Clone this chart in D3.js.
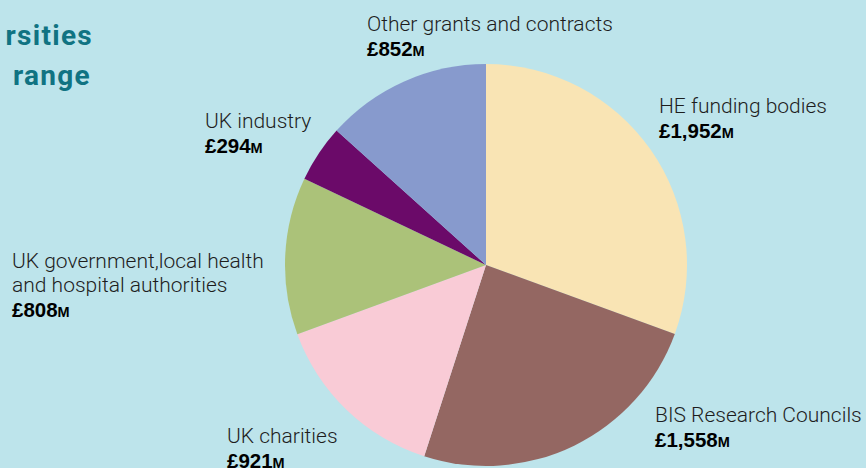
<!DOCTYPE html>
<html>
<head>
<meta charset="utf-8">
<script src="https://cdn.jsdelivr.net/npm/d3@7"></script>
<style>
  body { margin: 0; background: #bde4eb; }
  svg { display: block; }
  .lbl { font-family: Roboto, "Liberation Sans", sans-serif; font-weight: 300; font-size: 21px; fill: #1d1d1d; }
  .val { font-family: "Liberation Sans", Arial, sans-serif; font-weight: 700; font-size: 20.5px; fill: #000; }
  .title { font-family: Roboto, sans-serif; font-weight: 700; font-size: 28px; letter-spacing: 1.3px; fill: #107382; }
</style>
</head>
<body>
<div id="graphic"></div>
<script>
// data, clockwise from 12 o'clock
var categories = ["HE funding bodies", "BIS Research Councils", "UK charities",
                  "UK government,local health and hospital authorities", "UK industry",
                  "Other grants and contracts"];
var values = [1952, 1558, 921, 808, 294, 852];
var colors = ["#f9e4b4", "#946762", "#f9cbd6", "#abc279", "#6b0a69", "#879acd"];
// label lines as printed next to the pie
var labelLines = [["HE funding bodies"], ["BIS Research Councils"], ["UK charities"],
                  ["UK government,local health", "and hospital authorities"], ["UK industry"],
                  ["Other grants and contracts"]];
var labelPos = [[659, 113], [655, 422], [227, 443], [12, 268], [205, 128], [367, 31]];

var width = 866, height = 468;
var cx = 486, cy = 265, radius = 201;

var svg = d3.select("#graphic").append("svg")
    .attr("width", width)
    .attr("height", height);

svg.append("rect").attr("width", width).attr("height", height).attr("fill", "#bde4eb");

// title, cut off on the left in the original
svg.append("text").attr("class", "title").attr("x", 93).attr("y", 45)
    .attr("text-anchor", "end").text("rsities");
svg.append("text").attr("class", "title").attr("x", 91).attr("y", 85)
    .attr("text-anchor", "end").text("range");

var data = categories.map(function (c, i) { return { name: c, value: values[i], i: i }; });

var pie = d3.pie().sort(null).value(function (d) { return d.value; });
var arc = d3.arc().innerRadius(0).outerRadius(radius);

var g = svg.append("g").attr("transform", "translate(" + cx + "," + cy + ")");
g.selectAll("path")
    .data(pie(data))
  .enter().append("path")
    .attr("d", arc)
    .attr("fill", function (d) { return colors[d.data.i]; });

var fmt = d3.format(",");
data.forEach(function (d, i) {
  var lines = labelLines[i];
  var x = labelPos[i][0], y = labelPos[i][1];
  var t = svg.append("text").attr("class", "lbl");
  lines.forEach(function (l, k) {
    t.append("tspan").attr("x", x).attr("y", y + k * 24).text(l);
  });
  var v = svg.append("text").attr("class", "val").attr("x", x).attr("y", y + lines.length * 24.5);
  v.append("tspan").text("£" + fmt(d.value));
  v.append("tspan").style("font-size", "14.5px").text("M");
});
</script>
</body>
</html>
